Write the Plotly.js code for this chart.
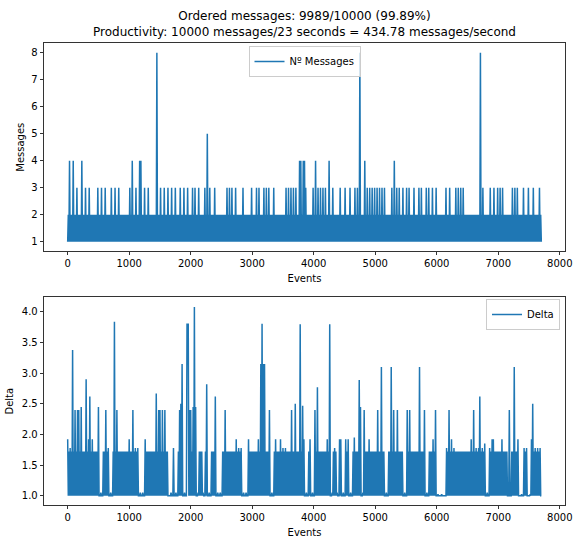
<!DOCTYPE html>
<html><head><meta charset="utf-8">
<script src="https://cdn.plot.ly/plotly-3.0.1.min.js"></script>
<style>html,body{margin:0;padding:0;background:#fff;}#chart{width:579px;height:551px;}</style>
</head><body><div id="chart"></div>
<script>
// ---- data (one sample every 10 events) ----
const titleLines = ["Ordered messages: 9989/10000 (99.89%)",
  "Productivity: 10000 messages/23 seconds = 434.78 messages/second"];
const eventStep = 10;
const seriesNames = ["Nº Messages", "Delta"];
const axisTitles = {x: "Events", y1: "Messages", y2: "Delta"};

// Nº Messages per event, one digit per sample, one string per 1000 events
const messagesChunks = [
  "12141212141212131212 12141212131212131212 12121212131212131212 13121212121312121312 12131212121212121212",
  "13121412121312121414 12121312121312121212 12121812121312121312 12131212131212131212 12131212131212131212",
  "12131213121213121212 12131215121312121213 12121212121212121213 12131213121213121212 12121312121212121213",
  "12121213121312121213 12131213121212131212 12121212121212131213 12131213121312121414 12141413121212121213",
  "12141213121312131213 12121412121312121212 12131212121312121213 12121213121312181212 12141213121312131213",
  "12131213121312131212 12121213121412131213 12121312121312131212 12131212121312131212 12131213121213121213",
  "12121212121212131212 13121212121312131213 12131212121212121212 12121212121812131212 12121213121213121213",
  "12131213121212121212 12131213121312121212 13121212131212121312 12121213121"
];

// Delta per event, one array per 1000 events
const delta0 = [
  1.92,1, 1.72,1, 1.78,1, 1.72,1, 3.38,1, 1.72,1, 2.4,1, 1.72,1, 2.4,1, 2.4,1,
  1.72,1, 2.45,1, 1.72,1, 1.72,1, 1.72,1, 2.9,1, 1.72,1, 1.92,1, 2.62,1, 1.72,1,
  1.92,1, 1.72,1, 1.72,1, 1.72,1, 1.72,1, 2.45,1, 1,1, 1.05,1, 1,1, 1.72,1,
  1.72,1, 2.4,1, 1.72,1, 1.78,1, 1,1, 1.05,1, 1,1, 1.72,1, 3.84,1, 1.72,1,
  2.4,1, 1.72,1, 1.72,1, 1.72,1, 1.72,1, 1.72,1, 1.72,1, 1.72,1, 1.72,1, 1.72,1];
const delta1 = [
  1.92,1, 1.72,1, 1.72,1, 2.4,1, 1.72,1, 1.78,1, 1.72,1, 1.78,1, 1,1, 1.05,1,
  1,1, 1.05,1, 1,1, 1.92,1, 1.72,1, 1.72,1, 1.72,1, 1.72,1, 1.72,1, 1.72,1,
  1.72,1, 1.72,1, 2.67,1, 1.72,1, 2.4,1, 2.4,1, 1.72,1, 2.4,1, 1.72,1, 2.4,1,
  1.72,1, 1.72,1, 1,1, 1,1, 1.05,1, 1,1, 1.78,1, 1,1, 1.05,1, 1,1,
  1.72,1, 2.4,1, 2.5,1, 3.15,1, 1,1, 1.05,1, 1,1, 3.8,3.8, 3.8,1, 2.4,1];
const delta2 = [
  2.4,1, 1.72,1, 2.45,1, 4.08,1, 2.45,1, 1,1, 1.05,1, 1.72,1, 1.72,1, 1.72,1,
  1.05,1, 1,1, 1.72,1, 2.82,1, 1,1, 1.05,1, 1,1, 1.72,1, 1.72,1, 1.72,1,
  2.62,1, 1,1, 1.05,1, 1,1, 1.05,1, 1,1, 1.72,1, 1.72,1, 2.4,1, 1.72,1,
  1.72,1, 1.72,1, 1.72,1, 1.72,1, 1.72,1, 1.72,1, 1.72,1, 1.92,1, 1.72,1, 1.78,1,
  1.72,1, 1.78,1, 1,1, 1.05,1, 1,1, 1.05,1, 1,1, 1.92,1, 1.72,1, 1.72,1];
const delta3 = [
  1.72,1, 1.72,1, 1.72,1, 1.72,1, 1.72,1, 1.92,1, 1.72,1, 3.15,1, 3.81,1, 3.15,1,
  3.15,1, 1.72,1, 1.72,1, 1.72,1, 2.4,1, 1,1, 1.05,1, 1,1, 1.72,1, 1.92,1,
  1.72,1, 1.72,1, 1.72,1, 1.92,1, 1.72,1, 1.78,1, 1.72,1, 1.78,1, 1.72,1, 1.72,1,
  1.72,1, 1.72,1, 2.4,1, 1.72,1, 1.72,1, 2.5,1, 1.72,1, 1.72,1, 1.72,1, 3.8,1,
  1.72,1, 2.47,1, 1.92,1, 1,1, 1.05,1, 1,1, 1.72,1, 1.92,1, 1,1, 1.05,1];
const delta4 = [
  1,1, 2.4,1, 1.72,1, 2.77,1, 1.72,1, 1.72,1, 1.72,1, 1.72,1, 1.72,1, 1.72,1,
  1.72,1, 1.92,1, 1.72,1, 3.8,1, 1,1, 1.05,1, 1.72,1, 1.78,1, 1.72,1, 1.05,1,
  1,1, 1.92,1, 1.92,1, 1,1, 1.05,1, 1,1, 1.92,1, 1.72,1, 1.92,1, 1,1,
  1.05,1, 1,1, 1.72,1, 1.95,1, 1.72,1, 1.72,1, 1.72,1, 2.89,1, 2.45,1, 1,1,
  1.05,1, 2.4,1, 1.72,1, 1.72,1, 1.72,1, 1.92,1, 1.72,1, 1.72,1, 1.72,1, 1.72,1];
const delta5 = [
  1.72,1, 1.72,1, 2.4,1, 1.72,1, 1.72,1, 3.1,1, 1.72,1, 1.72,1, 1,1, 1.05,1,
  1,1, 1.72,1, 1.72,1, 3.1,1, 1.72,1, 2.4,1, 1.72,1, 1.72,1, 2.4,1, 1.72,1,
  1.72,1, 1.72,1, 1.72,1, 1,1, 1.05,1, 1,1, 2.4,1, 1.72,1, 2.4,1, 1.72,1,
  1.72,1, 1.72,1, 1.72,1, 1.72,1, 1.72,1, 1.72,1, 3.1,1, 1.72,1, 1.72,1, 1.72,1,
  2.4,1, 1,1, 1.05,1, 1,1, 1.72,1, 1.72,1, 1.72,1, 1.92,1, 1.72,1, 2.4,1];
const delta6 = [
  1,1, 1.02,1, 1,1, 1,1, 1.02,1, 1,1, 1,1, 1,1, 1.78,1, 1.72,1,
  2.4,1, 1.72,1, 1.92,1, 1.72,1, 1.78,1, 1.72,1, 1.72,1, 1.72,1, 1.72,1, 1.72,1,
  1.72,1, 1.72,1, 1.72,1, 1.72,1, 1.72,1, 1.72,1, 1.72,1, 1.72,1, 1.92,1, 1.72,1,
  2.4,1, 1.72,1, 1.78,1, 1.72,1, 1.78,1, 2.62,1, 1.72,1, 1.78,1, 1.72,1, 1.85,1,
  1,1, 1.05,1, 1,1, 1.78,1, 1.72,1, 1.92,1, 1.92,1, 1.72,1, 1.72,1, 1.72,1];
const delta7 = [
  1.72,1, 1.72,1, 1.72,1, 1.92,1, 1.72,1, 1.72,1, 1.72,1, 1.72,1, 1,1, 2.4,1,
  1,1, 1.72,1, 1.72,1, 3.1,1, 1.72,1, 1.72,1, 1.92,1, 1,1, 1,1, 1.02,1,
  1,1, 1.78,1, 1.72,1, 1.78,1, 1,1, 1,1, 1.02,1, 1.92,1, 2.5,1, 1.72,1,
  1.78,1, 1.72,1, 1.78,1, 1.72,1, 1.78,1, 1];

const xTicks = [0,1000,2000,3000,4000,5000,6000,7000,8000];
const messageTicks = [1,2,3,4,5,6,7,8];
const deltaTicks = [1.0,1.5,2.0,2.5,3.0,3.5,4.0];

// ---- build series ----
const messages = messagesChunks.join("").replace(/\s+/g, "").split("").map(Number);
const delta = [].concat(delta0, delta1, delta2, delta3, delta4, delta5, delta6, delta7);
const evM = messages.map((_, i) => i * eventStep);
const evD = delta.map((_, i) => i * eventStep);

// ---- layout (figure is 579 x 551 px, no outer margin) ----
const W = 579, H = 551;
const fx = p => p / W, fy = p => 1 - p / H;
const FONT = "DejaVu Sans, Liberation Sans, sans-serif";
const BLUE = "#1f77b4";

function xAxis(anchor) {
  return {
    anchor, domain: [fx(44), fx(565)], range: [-385, 8085],
    tickmode: "array", tickvals: xTicks, ticks: "outside", ticklen: 3.5, tickwidth: 0.8,
    tickcolor: "#000", showline: true, mirror: true, linecolor: "#000", linewidth: 0.8,
    showgrid: false, zeroline: false, tickfont: {family: FONT, size: 10, color: "#000"},
    title: {text: axisTitles.x, font: {family: FONT, size: 10, color: "#000"}, standoff: 6}
  };
}
function yAxis(anchor, dom, range, ticks, fmt, title, standoff) {
  return {
    anchor, domain: dom, range, tickmode: "array", tickvals: ticks,
    ticktext: ticks.map(v => fmt(v)),
    ticks: "outside", ticklen: 3.5, tickwidth: 0.8, tickcolor: "#000",
    showline: true, mirror: true, linecolor: "#000", linewidth: 0.8,
    showgrid: false, zeroline: false, tickfont: {family: FONT, size: 10, color: "#000"},
    title: {text: title, font: {family: FONT, size: 10, color: "#000"}, standoff}
  };
}

const traces = [
  {type: "scatter", mode: "lines", x: evM, y: messages, name: seriesNames[0],
   line: {color: BLUE, width: 1.5, simplify: false}, xaxis: "x", yaxis: "y", legend: "legend"},
  {type: "scatter", mode: "lines", x: evD, y: delta, name: seriesNames[1],
   line: {color: BLUE, width: 1.5, simplify: false}, xaxis: "x2", yaxis: "y2", legend: "legend2"}
];

const legendStyle = {bgcolor: "rgba(255,255,255,0.8)", bordercolor: "#cccccc", borderwidth: 1,
  font: {family: FONT, size: 10, color: "#000"}, itemwidth: 30, tracegroupgap: 0};

const layout = {
  width: W, height: H, margin: {l: 0, r: 0, t: 0, b: 0},
  paper_bgcolor: "#fff", plot_bgcolor: "#fff", showlegend: true,
  font: {family: FONT, color: "#000"},
  title: {text: titleLines.join("<br>"), font: {family: FONT, size: 12, color: "#000"},
    x: fx(304.5), xanchor: "center", xref: "paper", y: fy(20), yanchor: "top", yref: "container"},
  xaxis: xAxis("y"),
  yaxis: yAxis("x", [fy(251.1), fy(43.3)], [0.65, 8.35], messageTicks, v => String(v), axisTitles.y1, 4),
  xaxis2: xAxis("y2"),
  yaxis2: yAxis("x2", [fy(505.1), fy(297.3)], [0.846, 4.24], deltaTicks, v => v.toFixed(1), axisTitles.y2, 6),
  legend: Object.assign({x: fx(304.5), xanchor: "center", y: fy(46), yanchor: "top"}, legendStyle),
  legend2: Object.assign({x: fx(560), xanchor: "right", y: fy(299), yanchor: "top"}, legendStyle)
};

Plotly.newPlot("chart", traces, layout, {staticPlot: true, displayModeBar: false});
</script>
</body></html>
